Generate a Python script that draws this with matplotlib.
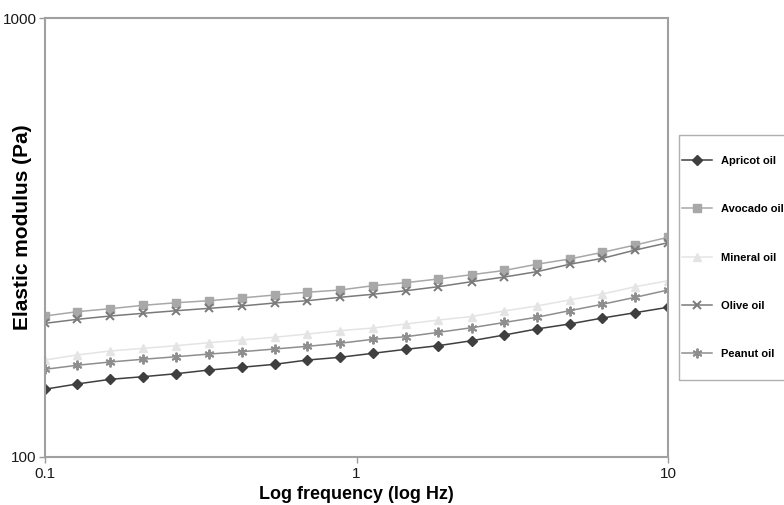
import numpy as np
import matplotlib
matplotlib.use("Agg")
import matplotlib.pyplot as plt
from matplotlib.patches import Rectangle
from matplotlib.ticker import FixedLocator, FixedFormatter, NullLocator

plt.rcParams['font.family'] = ['Liberation Sans', 'DejaVu Sans']

# =========================
# DATA
# =========================

freq = [0.1, 0.127, 0.162, 0.207, 0.264, 0.336, 0.428, 0.546, 0.695, 0.886,
        1.13, 1.44, 1.83, 2.34, 2.98, 3.79, 4.83, 6.16, 7.85, 10.0]

apricot = [142.7, 146.7, 150.3, 152.4, 154.8, 157.8, 160.1, 162.6, 166.3, 168.7,
           172.3, 175.9, 179.3, 184.0, 189.6, 195.7, 200.9, 207.3, 213.2, 219.3]
avocado = [209.5, 214.3, 217.7, 221.6, 224.6, 227.0, 230.3, 233.9, 237.3, 240.1,
           245.6, 249.5, 254.4, 260.2, 266.0, 274.8, 282.5, 292.6, 304.0, 316.6]
mineral = [166.3, 170.8, 174.4, 176.8, 179.3, 182.1, 184.7, 187.4, 190.6, 194.0,
           196.7, 200.9, 205.1, 208.9, 215.1, 220.8, 227.9, 235.1, 244.3, 252.1]
olive = [201.6, 205.9, 209.5, 212.5, 215.4, 218.1, 220.8, 224.3, 227.0, 231.1,
         234.8, 239.2, 244.3, 250.8, 257.0, 264.3, 274.8, 283.5, 296.1, 307.7]
peanut = [158.4, 161.8, 164.6, 167.0, 169.2, 171.6, 173.7, 176.2, 178.7, 181.6,
          185.4, 187.9, 192.3, 197.0, 202.5, 208.1, 215.4, 222.8, 231.1, 240.1]

labels = ["Apricot oil", "Avocado oil", "Mineral oil", "Olive oil", "Peanut oil"]

# =========================
# STYLE
# =========================

styles = [
    dict(color="#3f3f3f", marker="D", ms=5.0),
    dict(color="#a8a8a8", marker="s", ms=5.5),
    dict(color="#e4e4e4", marker="^", ms=6.0),
    dict(color="#7a7a7a", marker="x", ms=6.0, mew=1.4),
    dict(color="#8e8e8e", marker=(6, 2, 0), ms=7.0, mew=1.4),
]

# =========================
# PLOT
# =========================

fig = plt.figure(figsize=(7.84, 5.05), dpi=100)
ax = fig.add_axes([45 / 784, 48 / 505, 623 / 784, 439 / 505])

series = [apricot, avocado, mineral, olive, peanut]
for vals, lab, st in zip(series, labels, styles):
    ax.plot(freq, vals, label=lab, lw=1.1, **st)

ax.set_xscale("log")
ax.set_yscale("log")
ax.set_xlim(0.1, 10)
ax.set_ylim(100, 1000)

ax.xaxis.set_major_locator(FixedLocator([0.1, 1, 10]))
ax.xaxis.set_major_formatter(FixedFormatter(["0.1", "1", "10"]))
ax.xaxis.set_minor_locator(NullLocator())
ax.yaxis.set_major_locator(FixedLocator([100, 1000]))
ax.yaxis.set_major_formatter(FixedFormatter(["100", "1000"]))
ax.yaxis.set_minor_locator(NullLocator())

ax.tick_params(axis="both", labelsize=11, color="#999999", length=4, width=1,
               labelcolor="#1a1a1a", pad=2)
ax.tick_params(axis="x", pad=3)

for sp in ax.spines.values():
    sp.set_color("#a0a0a0")
    sp.set_linewidth(1.5)

ax.set_xlabel("Log frequency (log Hz)", fontsize=13, weight="bold", labelpad=4)
fig.text(23 / 784, 1 - 227 / 505, "Elastic modulus (Pa)", fontsize=15,
         weight="bold", rotation=90, ha="center", va="center")

# legend box (frame drawn separately so it can run off the right edge)
fig.patches.append(Rectangle((679 / 784, 1 - 380 / 505), 0.2, 245 / 505,
                             transform=fig.transFigure, facecolor="white",
                             edgecolor="#b0b0b0", lw=1.0, zorder=0))

leg = fig.legend(loc="upper left", bbox_to_anchor=(682 / 784, 1 - 156 / 505),
                 prop={"size": 8, "weight": "bold"}, labelspacing=3.45,
                 handlelength=2.7, handletextpad=0.8, borderpad=0,
                 borderaxespad=0, frameon=False)

fig.savefig("out.png", dpi=100)
